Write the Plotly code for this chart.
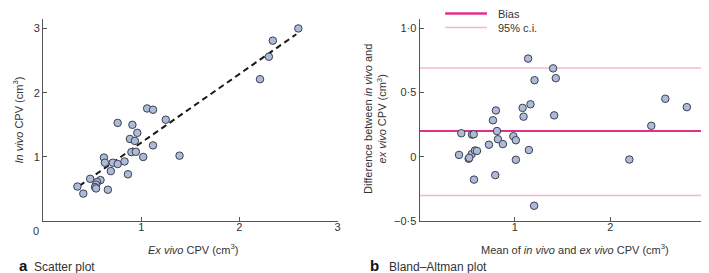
import plotly.graph_objects as go

# ---- Data ----
ex_vivo = [1.06, 1.12, 1.25, 0.76, 0.91, 0.96, 0.885, 0.935, 1.12, 0.90, 0.945, 1.02,
           0.62, 0.63, 0.71, 0.76, 0.83, 0.69, 0.865, 0.48, 0.585, 0.55, 0.54, 0.53,
           0.54, 0.35, 0.41, 0.66, 1.39, 2.21, 2.30, 2.34, 2.60]
in_vivo = [1.755, 1.735, 1.58, 1.53, 1.50, 1.375, 1.28, 1.25, 1.18, 1.075, 1.08, 1.00,
           0.99, 0.91, 0.91, 0.89, 0.93, 0.78, 0.73, 0.66, 0.64, 0.61, 0.57, 0.53,
           0.51, 0.54, 0.43, 0.49, 1.02, 2.21, 2.56, 2.81, 3.00]
fit_x = [0.37, 2.58]
fit_y = [0.55, 2.91]

ba_mean = [1.139, 1.401, 1.429, 1.206, 2.578, 2.804, 1.164, 1.081, 1.091, 1.412, 0.801,
           0.770, 2.431, 0.438, 0.550, 0.568, 0.812, 0.984, 0.822, 1.010, 0.728, 0.874,
           0.414, 0.547, 0.581, 0.602, 0.515, 0.521, 1.147, 1.010, 2.201, 0.571, 0.794,
           1.202]
ba_diff = [0.763, 0.687, 0.611, 0.595, 0.451, 0.386, 0.408, 0.380, 0.312, 0.322, 0.360,
           0.284, 0.241, 0.183, 0.173, 0.175, 0.200, 0.160, 0.137, 0.129, 0.094, 0.099,
           0.015, 0.021, 0.049, 0.046, -0.015, -0.008, 0.053, -0.023, -0.021, -0.177,
           -0.142, -0.380]
bias = 0.20
ci_upper = 0.69
ci_lower = -0.30
line_span = [0, 3]

left_x_ticks = [1, 2, 3]
left_y_ticks = [1, 2, 3]
right_x_ticks = [1, 2, 3]
right_y_ticks = [-0.5, 0, 0.5, 1.0]
right_y_labels = ["\u22120\u00b75", "0", "0\u00b75", "1\u00b70"]

# ---- Styles ----
W, H = 709, 273
AX = "#555555"
TXT = "#333333"
BIAS_C = "#E0308A"
CI_C = "#F5B8D0"
MFILL = "#AEBADA"
MLINE = "#3A404C"
FONT = "Liberation Sans, Arial, sans-serif"


def px(x):
    return x / W


def py(y):
    return 1 - y / H


fig = go.Figure()

marker = dict(size=7.5, color=MFILL, line=dict(color=MLINE, width=1))

fig.add_trace(go.Scatter(x=fit_x, y=fit_y, mode="lines",
                         line=dict(color="#1a1a1a", width=2, dash="6px,4px"),
                         xaxis="x", yaxis="y", showlegend=False, hoverinfo="skip"))
fig.add_trace(go.Scatter(x=ex_vivo, y=in_vivo, mode="markers", marker=marker,
                         xaxis="x", yaxis="y", showlegend=False))

fig.add_trace(go.Scatter(x=line_span, y=[ci_upper, ci_upper], mode="lines",
                         line=dict(color=CI_C, width=1.5), xaxis="x2", yaxis="y2",
                         showlegend=False, hoverinfo="skip"))
fig.add_trace(go.Scatter(x=line_span, y=[ci_lower, ci_lower], mode="lines",
                         line=dict(color=CI_C, width=1.5), xaxis="x2", yaxis="y2",
                         showlegend=False, hoverinfo="skip"))
fig.add_trace(go.Scatter(x=line_span, y=[bias, bias], mode="lines",
                         line=dict(color=BIAS_C, width=2), xaxis="x2", yaxis="y2",
                         showlegend=False, hoverinfo="skip"))
fig.add_trace(go.Scatter(x=ba_mean, y=ba_diff, mode="markers", marker=marker,
                         xaxis="x2", yaxis="y2", showlegend=False))

ydom = [py(218), py(11.7)]
axis_common = dict(showline=True, linecolor=AX, linewidth=1, ticks="inside",
                   ticklen=4, tickcolor=AX, tickwidth=1, showgrid=False, zeroline=False,
                   tickfont=dict(size=11, color=TXT, family=FONT), mirror=False)

fig.update_layout(
    width=W, height=H, autosize=False,
    margin=dict(l=0, r=0, t=0, b=0),
    paper_bgcolor="white", plot_bgcolor="white",
    font=dict(family=FONT, color=TXT, size=11),
    xaxis=dict(domain=[px(35.2), px(331)], range=[0, 3], tickvals=left_x_ticks,
               anchor="y", ticklabelstandoff=-4, **axis_common),
    yaxis=dict(domain=ydom, range=[0, 3.14], tickvals=left_y_ticks,
               anchor="x", **axis_common),
    xaxis2=dict(domain=[px(413.3), px(700.5)], range=[0, 3], tickvals=right_x_ticks,
                anchor="y2", ticklabelstandoff=-4, **axis_common),
    yaxis2=dict(domain=ydom, range=[-0.5, 1.067], tickvals=right_y_ticks,
                ticktext=right_y_labels, anchor="x2", **axis_common),
)

ann = []
# "0" at origin of left plot
ann.append(dict(x=px(28), y=py(228), xref="paper", yref="paper", text="0", showarrow=False,
                xanchor="center", yanchor="middle",
                font=dict(size=11, color=TXT)))
# axis titles
ann.append(dict(x=px(186), y=py(246), xref="paper", yref="paper",
                text="<i>Ex vivo</i> CPV (cm<sup>3</sup>)", showarrow=False,
                xanchor="center", yanchor="middle", font=dict(size=11, color=TXT)))
ann.append(dict(x=px(11), y=py(114), xref="paper", yref="paper",
                text="<i>In vivo</i> CPV (cm<sup>3</sup>)", showarrow=False, textangle=-90,
                xanchor="center", yanchor="middle", font=dict(size=11, color=TXT)))
ann.append(dict(x=px(569), y=py(246), xref="paper", yref="paper",
                text="Mean of <i>in vivo</i> and <i>ex vivo</i> CPV (cm<sup>3</sup>)",
                showarrow=False, xanchor="center", yanchor="middle",
                font=dict(size=11, color=TXT)))
ann.append(dict(x=px(368.5), y=py(113.5), xref="paper", yref="paper",
                text="Difference between <i>in vivo</i> and<br><i>ex vivo</i> CPV (cm<sup>3</sup>)",
                showarrow=False, textangle=-90, xanchor="center", yanchor="middle",
                font=dict(size=11, color=TXT)))
# panel labels
ann.append(dict(x=px(9), y=py(263), xref="paper", yref="paper", text="<b>a</b>",
                showarrow=False, xanchor="left", yanchor="middle",
                font=dict(size=15, color="#111111")))
ann.append(dict(x=px(24), y=py(264.5), xref="paper", yref="paper", text="Scatter plot",
                showarrow=False, xanchor="left", yanchor="middle",
                font=dict(size=12, color=TXT)))
ann.append(dict(x=px(362), y=py(263), xref="paper", yref="paper", text="<b>b</b>",
                showarrow=False, xanchor="left", yanchor="middle",
                font=dict(size=15, color="#111111")))
ann.append(dict(x=px(381), y=py(264.5), xref="paper", yref="paper", text="Bland\u2013Altman plot",
                showarrow=False, xanchor="left", yanchor="middle",
                font=dict(size=12, color=TXT)))
# legend text
ann.append(dict(x=px(490), y=py(5.7), xref="paper", yref="paper", text="Bias",
                showarrow=False, xanchor="left", yanchor="middle",
                font=dict(size=11, color=TXT)))
ann.append(dict(x=px(490), y=py(20), xref="paper", yref="paper", text="95% c.i.",
                showarrow=False, xanchor="left", yanchor="middle",
                font=dict(size=11, color=TXT)))

shapes = [
    dict(type="line", xref="paper", yref="paper", x0=px(439), x1=px(481),
         y0=py(5.7), y1=py(5.7), line=dict(color=BIAS_C, width=2.5)),
    dict(type="line", xref="paper", yref="paper", x0=px(439), x1=px(481),
         y0=py(20), y1=py(20), line=dict(color=CI_C, width=1.5)),
]
fig.update_layout(annotations=ann, shapes=shapes)

fig.write_html("out.html")
